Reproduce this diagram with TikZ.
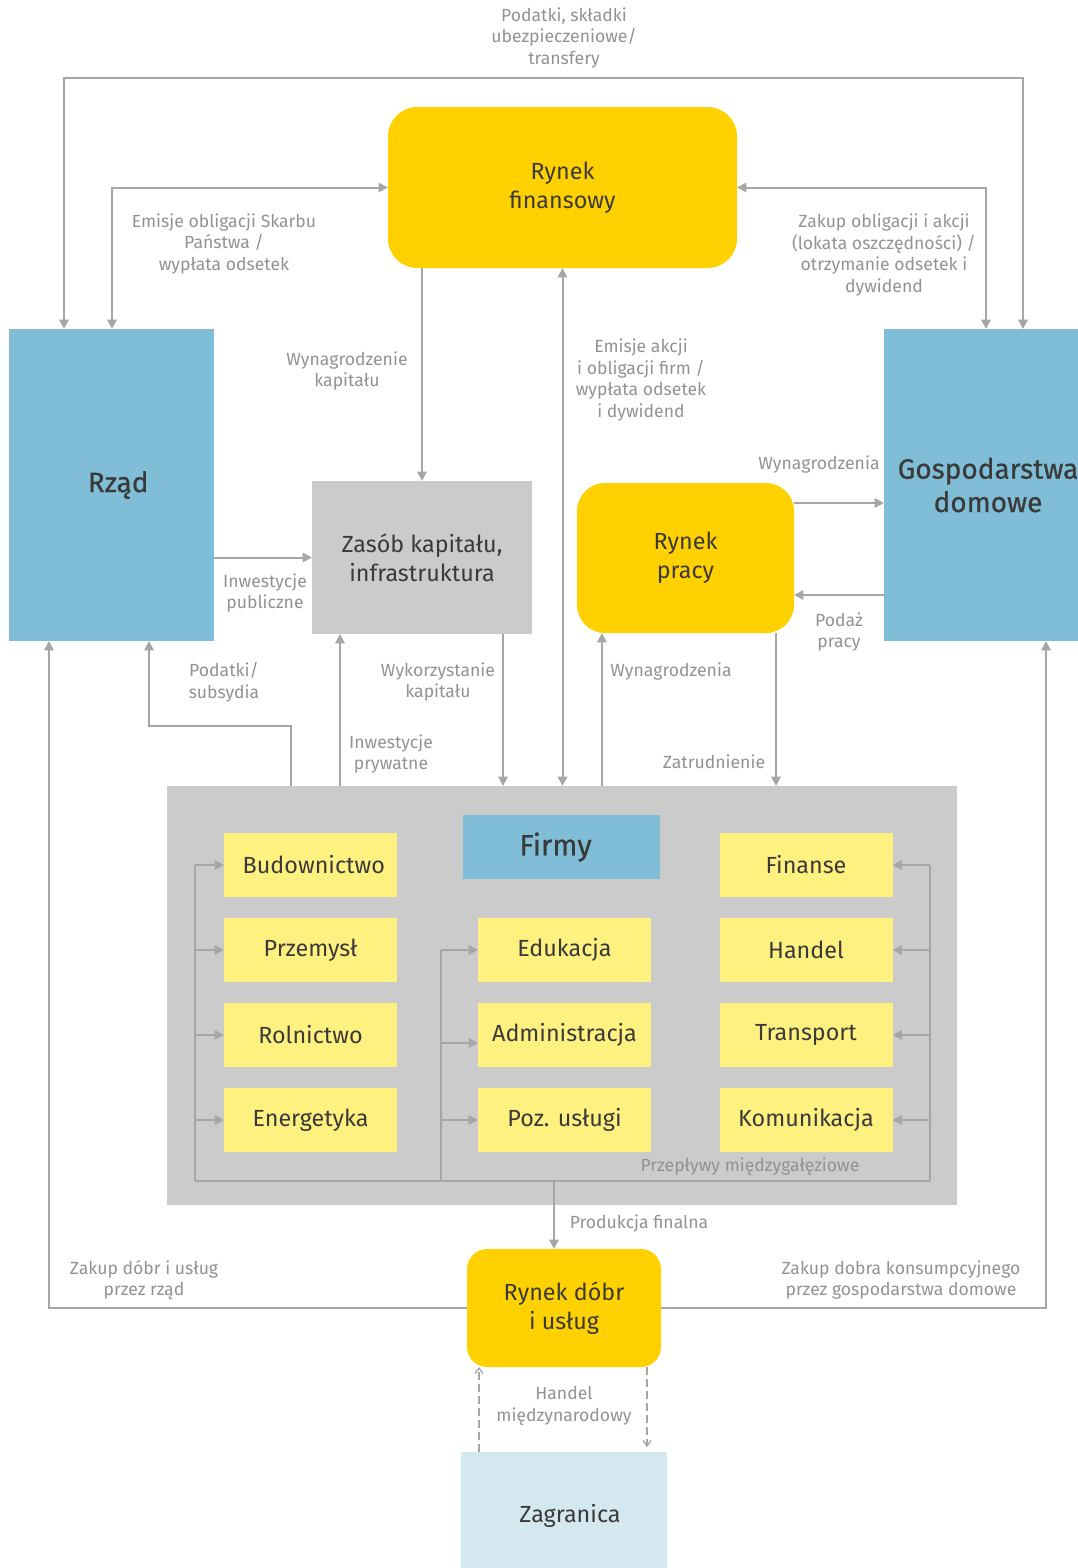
\documentclass[tikz,border=0pt]{standalone}
\usepackage{fontspec}
\setmainfont{Fira Sans}
\newfontfamily\midface{Fira Sans}[FakeBold=0.7]
\usetikzlibrary{arrows.meta,calc}
\definecolor{gold}{HTML}{FFD100}
\definecolor{pale}{HTML}{FFF180}
\definecolor{steel}{HTML}{7FBED6}
\definecolor{stone}{HTML}{CBCBCB}
\definecolor{mist}{HTML}{D4E8EF}
\definecolor{wire}{HTML}{A6A6A6}
\definecolor{note}{HTML}{929292}
\definecolor{ink}{HTML}{3A3A3A}
\begin{document}
\begin{tikzpicture}[x=0.75pt,y=-0.75pt,
  box/.style={inner sep=0pt, outer sep=0pt, align=center, text=ink},
  market/.style={box, fill=gold, font=\fontsize{17.5}{22}\selectfont},
  agent/.style={box, fill=steel, font=\midface\fontsize{21}{25}\selectfont},
  sector/.style={box, fill=pale, minimum width=129.75pt, minimum height=48pt,
                 font=\fontsize{17.5}{20}\selectfont},
  lbl/.style={align=center, text=note, inner sep=0pt, font=\fontsize{13.2}{16.2}\selectfont},
  link/.style={draw=wire, line width=1.5pt},
  tip/.tip={Triangle[length=7pt,width=7pt]},
  arr/.style={link, -tip},
  both/.style={link, tip-tip},
  trade/.style={draw=wire, line width=1pt, dash pattern=on 6pt off 3pt,
                -{Straight Barb[length=4pt,width=6pt]}}]
\useasboundingbox (0,0) rectangle (1078,1568);

% --- agents and markets
\node[market, rounded corners=22pt, minimum width=261.75pt, minimum height=120.75pt]
  (rf) at (562.5,187.5) {Rynek\\finansowy};
\node[agent, minimum width=153.75pt, minimum height=234pt] (rz) at (111.5,485) {\hspace*{10pt}Rząd};
\node[agent, minimum width=156pt, minimum height=234pt] (gd) at (988,485) {Gospodarstwa\\domowe};
\node[box, fill=stone, minimum width=165pt, minimum height=114.75pt,
      font=\fontsize{17.5}{22}\selectfont] (zk) at (422,557.5) {Zasób kapitału,\\infrastruktura};
\node[market, rounded corners=21pt, minimum width=162.75pt, minimum height=112.5pt]
  (rp) at (685.5,558) {Rynek\\pracy};

% --- firms block
\node[box, fill=stone, minimum width=592.5pt, minimum height=314.25pt] (fb) at (562,995.5) {};
\node[agent, font=\midface\fontsize{22}{25}\selectfont, minimum width=147.75pt, minimum height=48pt]
  (fm) at (561.5,847) {Firmy\hspace*{9pt}};
\node[sector] (bu) at (310.5,865) {\hspace*{5pt}Budownictwo};
\node[sector] (pr) at (310.5,950) {Przemysł};
\node[sector] (ro) at (310.5,1035) {Rolnictwo};
\node[sector] (en) at (310.5,1120) {Energetyka};
\node[sector] (ed) at (564.5,950) {Edukacja};
\node[sector] (ad) at (564.5,1035) {Administracja};
\node[sector] (pu) at (564.5,1120) {Poz. usługi};
\node[sector] (fi) at (806,865) {Finanse};
\node[sector] (ha) at (806,950) {Handel};
\node[sector] (tp) at (806,1035) {Transport};
\node[sector] (ko) at (806,1120) {Komunikacja};

\node[market, rounded corners=15pt, minimum width=145.5pt, minimum height=88.5pt]
  (rd) at (564,1308) {Rynek dóbr\\i usług};
\node[box, fill=mist, minimum width=154.5pt, minimum height=96pt,
      font=\fontsize{17.5}{22}\selectfont] (zg) at (564,1516) {\hspace*{9pt}Zagranica};

% --- routing points
\coordinate (topl) at (64,78);
\coordinate (topr) at (1023,78);
\coordinate (gb) at ($(rz.north west)+(103,0)$);
\coordinate (hb) at ($(gd.north west)+(102,0)$);
\coordinate (w1) at ($(rp.north east)+(0,20)$);
\coordinate (p1) at ($(rp.south east)+(0,-38)$);
\coordinate (s1) at ($(fb.north west)+(124,0)$);
\coordinate (s2) at ($(rz.south west)+(140,0)$);
\coordinate (i1) at ($(zk.south west)+(28,0)$);
\coordinate (k1) at ($(zk.south west)+(191,0)$);
\coordinate (r1) at ($(rp.south west)+(25,0)$);
\coordinate (r2) at ($(rp.south west)+(199,0)$);
\coordinate (g1) at ($(rz.south west)+(40,0)$);
\coordinate (g2) at ($(gd.south west)+(162,0)$);
\coordinate (fl) at (195,1181);
\coordinate (fc) at (441,1181);
\coordinate (fr) at (930,1181);
\coordinate (pf) at (554,1181);
\coordinate (d1) at ($(zg.north west)+(18,0)$);
\coordinate (d2) at ($(rd.south east)+(-14,0)$);

% --- flows between sectors
\draw[link] (fl) -- (fr);
\draw[link] (fl) -- (fl |- bu.west);
\draw[link] (fc) -- (fc |- ed.west);
\draw[link] (fr) -- (fr |- fi.east);
\foreach \s in {bu,pr,ro,en} \draw[arr] (fl |- \s.west) -- (\s.west);
\draw[arr] (fc |- ed.west) -- (ed.west);
\draw[arr] ($(fc |- ad.west)+(0,8)$) -- ($(ad.west)+(0,8)$);
\draw[arr] (fc |- pu.west) -- (pu.west);
\foreach \s in {fi,ha,tp,ko} \draw[arr] (fr |- \s.east) -- (\s.east);

% --- flows between agents
\draw[both] (topl |- rz.north) -- (topl) -- (topr) -- (topr |- gd.north);
\draw[both] (gb) |- (rf.west);
\draw[both] (rf.east) -| (hb);
\draw[arr] (rf.south -| zk.north) -- (zk.north);
\draw[arr] (zk.west -| rz.east) -- (zk.west);
\draw[both] (rf.south) -- (rf.south |- fb.north);
\draw[arr] (w1) -- (w1 -| gd.west);
\draw[arr] (p1 -| gd.west) -- (p1);
\draw[arr] (s1) |- ($(s2)+(0,85)$) -- (s2);
\draw[arr] (i1 |- fb.north) -- (i1);
\draw[arr] (k1) -- (k1 |- fb.north);
\draw[arr] (r1 |- fb.north) -- (r1);
\draw[arr] (r2) -- (r2 |- fb.north);
\draw[arr] (rd.west) -| (g1);
\draw[arr] (rd.east) -| (g2);
\draw[arr, line width=2.2pt] (pf) -- (pf |- rd.north);
\draw[trade] (d1) -- (d1 |- rd.south);
\draw[trade] (d2) -- ($(d2 |- zg.north)+(0,-5)$);

% --- flow labels
\node[lbl] (l1) at (564,38) {Podatki, składki\\ubezpieczeniowe/\\transfery};
\node[lbl] (l2) at (224,244) {Emisje obligacji Skarbu\\Państwa /\\wypłata odsetek};
\node[lbl] (l3) at (884,255) {Zakup obligacji i akcji\\(lokata oszczędności) /\\otrzymanie odsetek i\\dywidend};
\node[lbl] (l4) at (347,371) {Wynagrodzenie\\kapitału};
\node[lbl] (l5) at (641,380) {Emisje akcji\\i obligacji firm /\\wypłata odsetek\\i dywidend};
\node[lbl] (l6) at (265,593) {Inwestycje\\publiczne};
\node[lbl] (l7) at (819,465) {Wynagrodzenia};
\node[lbl] (l8) at (839,632) {Podaż\\pracy};
\node[lbl] (l9) at (224,682) {Podatki/\\subsydia};
\node[lbl] (l10) at (438,682) {Wykorzystanie\\kapitału};
\node[lbl] (l11) at (671,671) {Wynagrodzenia};
\node[lbl] (l12) at (391,754) {Inwestycje\\prywatne};
\node[lbl] (l13) at (714,762) {Zatrudnienie};
\node[lbl] (l14) at (750,1167) {Przepływy międzygałęziowe};
\node[lbl] (l15) at (639,1223) {Produkcja finalna};
\node[lbl] (l16) at (144,1280) {Zakup dóbr i usług\\przez rząd};
\node[lbl] (l17) at (901,1280) {Zakup dobra konsumpcyjnego\\przez gospodarstwa domowe};
\node[lbl] (l18) at (564,1406) {Handel\\międzynarodowy};
\end{tikzpicture}
\end{document}
